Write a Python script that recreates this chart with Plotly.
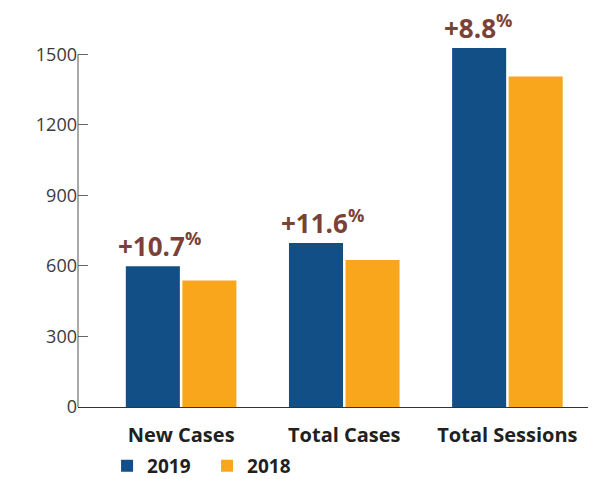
import plotly.graph_objects as go

categories = ["New Cases", "Total Cases", "Total Sessions"]
values_2019 = [598, 697, 1527]
values_2018 = [538, 625, 1405]
growth_labels = ["+10.7", "+11.6", "+8.8"]
y_ticks = [0, 300, 600, 900, 1200, 1500]

BLUE = "#124f86"
ORANGE = "#f9a61d"
BROWN = "#7b4136"
DARK = "#231f20"

fig = go.Figure()
fig.add_trace(go.Bar(x=categories, y=values_2019, name="2019",
                     marker=dict(color=BLUE, line=dict(width=0))))
fig.add_trace(go.Bar(x=categories, y=values_2018, name="2018",
                     marker=dict(color=ORANGE, line=dict(width=0))))

for i, (lab, v) in enumerate(zip(growth_labels, values_2019)):
    fig.add_annotation(x=i - 0.355, y=v, xref="x", yref="y",
                       text=f"{lab}<sup>%</sup>", showarrow=False,
                       xanchor="left", yanchor="middle", yshift=21, xshift=-7,
                       font=dict(family="Open Sans", size=26, color=BROWN, weight="bold"))

# y axis line spanning the tick range only
fig.add_shape(type="line", xref="paper", x0=0, x1=0, yref="y",
              y0=y_ticks[0], y1=y_ticks[-1], line=dict(color="#555", width=1))

fig.update_layout(
    width=604, height=479,
    margin=dict(l=78, r=16, t=46, b=72, autoexpand=False),
    plot_bgcolor="white", paper_bgcolor="white",
    barmode="group", bargap=0.307, bargroupgap=0.044,
    showlegend=True,
    legend=dict(orientation="h", x=0.057, y=-0.163, xanchor="left", yanchor="middle",
                font=dict(family="Open Sans", size=19, color=DARK, weight="bold"),
                entrywidth=55, traceorder="normal"),
    xaxis=dict(range=[-0.632, 2.494], showline=True, linecolor="#333", linewidth=1.3,
               ticks="outside", ticklen=10, tickcolor="rgba(0,0,0,0)",
               tickfont=dict(family="Open Sans", size=20, color=DARK, weight="bold"),
               showgrid=False, zeroline=False),
    yaxis=dict(range=[0, 1535], tickvals=y_ticks, showline=False,
               ticks="inside", ticklen=10, tickcolor="#666", tickwidth=1,
               tickfont=dict(family="Open Sans", size=18, color="#3a3a3a"),
               showgrid=False, zeroline=False),
)

fig.write_html("out.html")
